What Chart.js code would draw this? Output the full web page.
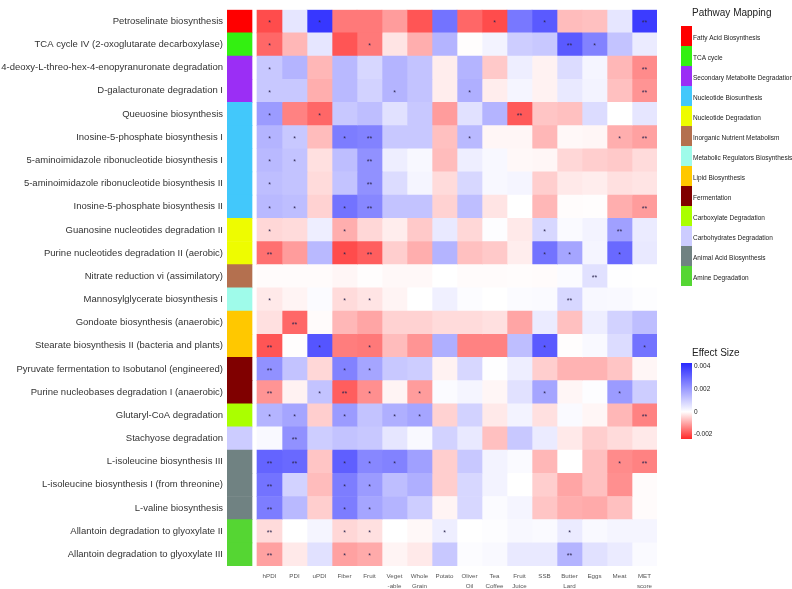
<!DOCTYPE html>
<html>
<head>
<meta charset="utf-8">
<script src="https://cdn.jsdelivr.net/npm/chart.js@4.4.0/dist/chart.umd.min.js"></script>
<style>
  html, body { margin: 0; padding: 0; background: #fff; }
</style>
</head>
<body>
<canvas id="heat" width="792" height="589"></canvas>
<script>
// pathways (rows) and diet scores (columns)
var rowLabels = [
  'Petroselinate biosynthesis',
  'TCA cycle IV (2-oxoglutarate decarboxylase)',
  '4-deoxy-L-threo-hex-4-enopyranuronate degradation',
  'D-galacturonate degradation I',
  'Queuosine biosynthesis',
  'Inosine-5-phosphate biosynthesis I',
  '5-aminoimidazole ribonucleotide biosynthesis I',
  '5-aminoimidazole ribonucleotide biosynthesis II',
  'Inosine-5-phosphate biosynthesis II',
  'Guanosine nucleotides degradation II',
  'Purine nucleotides degradation II (aerobic)',
  'Nitrate reduction vi (assimilatory)',
  'Mannosylglycerate biosynthesis I',
  'Gondoate biosynthesis (anaerobic)',
  'Stearate biosynthesis II (bacteria and plants)',
  'Pyruvate fermentation to Isobutanol (engineered)',
  'Purine nucleobases degradation I (anaerobic)',
  'Glutaryl-CoA degradation',
  'Stachyose degradation',
  'L-isoleucine biosynthesis III',
  'L-isoleucine biosynthesis I (from threonine)',
  'L-valine biosynthesis',
  'Allantoin degradation to glyoxylate II',
  'Allantoin degradation to glyoxylate III'
];

var colLabels = [['hPDI'], ['PDI'], ['uPDI'], ['Fiber'], ['Fruit'], ['Veget', '-able'],
  ['Whole', 'Grain'], ['Potato'], ['Oliver', 'Oil'], ['Tea', 'Coffee'], ['Fruit', 'Juice'],
  ['SSB'], ['Butter', 'Lard'], ['Eggs'], ['Meat'], ['MET', 'score']];

var pathwayNames = ['Fatty Acid Biosynthesis', 'TCA cycle', 'Secondary Metabolite Degradation',
  'Nucleotide Biosunthesis', 'Nucleotide Degradation', 'Inorganic Nutrient Metabolism',
  'Metabolic Regulators Biosynthesis', 'Lipid Biosynthesis', 'Fermentation',
  'Carboxylate Degradation', 'Carbohydrates Degradation', 'Animal Acid Biosynthesis',
  'Amine Degradation'];
var pathwayColors = ['#ff0000', '#33f011', '#9b2ef5', '#42c8fb', '#eefc00', '#b4704f',
  '#9ffbea', '#ffc800', '#800000', '#aaff00', '#ccccff', '#708282', '#55d633'];
// pathway group of each row (index into pathwayNames)
var rowPathway = [0, 1, 2, 2, 3, 3, 3, 3, 3, 4, 4, 5, 6, 7, 7, 8, 8, 9, 10, 11, 11, 11, 12, 12];

// effect size, in units of 0.001, one row per pathway, one value per column
var effect = [
  [-2.0, 0.5, 4.0, -1.5, -1.5, -1.1, -1.9, 2.8, -1.7, -2.0, 2.7, 3.3, -0.75, -0.7, 0.5, 3.9],
  [-1.7, -0.8, 0.5, -1.9, -1.5, -0.3, -0.9, 1.5, -0.02, 0.25, 1.0, 1.1, 3.3, 2.5, 1.2, 0.4],
  [1.1, 1.5, -0.8, 1.4, 0.8, 1.5, 1.2, -0.2, 1.5, -0.6, 0.35, -0.15, 0.7, 0.2, -0.8, -1.3],
  [1.1, 1.1, -0.9, 1.4, 0.9, 1.5, 1.2, -0.2, 1.6, -0.2, 0.2, -0.15, 0.45, 0.25, -0.7, -1.2],
  [2.0, -1.4, -1.7, 1.1, 1.3, 0.6, 1.1, -1.1, 0.6, 1.5, -1.85, -0.65, -0.7, 0.7, 0.0, 0.5],
  [1.5, 1.1, -0.75, 2.6, 2.5, 1.1, 1.1, -0.7, 1.4, -0.1, -0.1, -0.8, -0.08, -0.1, -0.9, -1.05],
  [1.4, 1.2, -0.35, 1.3, 2.2, 0.35, 0.15, -0.75, 0.35, 0.15, -0.08, -0.1, -0.45, -0.55, -0.6, -0.4],
  [1.3, 1.2, -0.4, 1.2, 2.2, 0.7, 0.2, -0.4, 0.8, 0.15, 0.2, -0.55, -0.25, -0.2, -0.35, -0.3],
  [1.4, 1.3, -0.5, 2.8, 2.4, 1.2, 1.2, -0.5, 1.3, -0.3, 0.0, -0.8, -0.03, -0.02, -0.9, -1.1],
  [-0.45, -0.4, 0.35, -0.9, -0.45, -0.2, -0.6, 0.45, -0.45, 0.05, -0.25, 0.8, 0.1, 0.25, 1.9, 0.4],
  [-1.6, -1.1, 1.4, -2.0, -1.8, -0.55, -0.9, 1.5, -0.7, -0.6, -0.2, 2.8, 1.8, 0.2, 3.0, 0.45],
  [-0.05, -0.05, -0.04, -0.1, -0.02, -0.08, -0.08, 0.0, -0.05, -0.05, -0.03, -0.04, 0.08, 0.6, 0.03, 0.0],
  [-0.25, -0.12, 0.08, -0.4, -0.3, -0.12, 0.0, 0.3, 0.06, 0.0, 0.08, 0.1, 0.8, 0.15, 0.12, 0.05],
  [-0.35, -1.7, -0.05, -0.8, -1.0, -0.5, -0.5, -0.4, -0.4, -0.35, -1.0, 0.4, -0.7, 0.35, 0.9, 1.3],
  [-1.9, -0.02, 3.4, -1.45, -1.5, -0.75, -1.2, 1.6, -1.4, -1.4, 1.3, 3.3, -0.02, 0.12, 0.7, 2.8],
  [2.2, 1.2, -0.45, 2.5, 1.8, 1.1, 1.0, -0.15, 0.8, 0.02, 0.35, -0.55, -0.85, -0.85, -0.65, -0.1],
  [-1.2, -0.15, 1.2, -1.8, -1.25, -0.12, -1.1, 0.08, 0.2, -0.1, 0.6, 1.8, -0.1, 0.05, 2.0, 1.0],
  [1.5, 1.8, -0.55, 2.0, 1.2, 1.6, 1.8, -0.5, 0.9, -0.25, 0.25, -0.35, 0.1, -0.1, -0.8, -1.4],
  [0.12, 2.2, 1.0, 1.2, 1.1, 0.5, 0.12, 0.9, 0.45, -0.7, 1.1, 0.4, -0.25, -0.55, -0.4, -0.25],
  [3.1, 3.0, -0.65, 3.2, 2.4, 2.5, 1.9, -0.55, 1.1, 0.25, 0.1, -0.8, 0.0, -0.7, -1.3, -1.4],
  [2.8, 0.9, -0.75, 2.6, 2.0, 1.3, 1.6, -0.55, 0.8, 0.25, 0.0, -0.55, -1.0, -0.7, -1.25, -0.05],
  [2.6, 1.4, -0.55, 2.6, 1.8, 1.5, 1.0, -0.12, 0.8, 0.08, 0.2, -0.65, -0.9, -0.95, -0.7, -0.05],
  [-0.4, 0.0, 0.2, -0.45, -0.35, 0.0, -0.08, 0.35, 0.0, 0.05, 0.15, 0.1, 0.4, 0.12, 0.2, 0.2],
  [-1.05, -0.25, 0.6, -1.05, -0.95, -0.12, -0.25, 1.1, 0.06, 0.12, 0.45, 0.45, 1.5, 0.6, 0.4, 0.1]
];

// significance stars per cell (number of '*'), one string per row
var stars = [
  '1010000001010002', '1000100000002100', '1000000000000002', '1000010010000002',
  '1010000000200000', '1101200010000012', '1100200000000000', '1000200000000000',
  '1101200000000002', '1001000000010020', '2001200000011010', '0000000000000200',
  '1001100000002000', '0200000000000000', '2010100000010001', '2001100000000000',
  '2012101000010010', '1101011000000002', '0200000000000000', '2201110000000012',
  '2001100000000000', '2001100000000000', '2001100100001000', '2001100000002000'
];

// colour scale limits (units of 0.001) and legend ticks
var scaleMax = 4.3;
var scaleMin = -2.4;
var legendTicks = [4, 2, 0, -2];
var legendTickText = ['0.004', '0.002', '0', '-0.002'];

var blueEnd = [40, 40, 255];
var redEnd = [255, 40, 40];

function colorFor(v) {
  var end = v >= 0 ? blueEnd : redEnd;
  var t = v >= 0 ? v / scaleMax : v / scaleMin;
  t = Math.max(0, Math.min(1, t));
  var r = Math.round(255 + (end[0] - 255) * t);
  var g = Math.round(255 + (end[1] - 255) * t);
  var b = Math.round(255 + (end[2] - 255) * t);
  return 'rgb(' + r + ',' + g + ',' + b + ')';
}

// the pathway strip sits left of the first column with a small gap
var stripStart = -1.2;
var stripEnd = -0.2;

var datasets = [];
datasets.push({
  data: rowLabels.map(function () { return [stripStart, stripEnd]; }),
  backgroundColor: rowPathway.map(function (p) { return pathwayColors[p]; })
});
for (var j = 0; j < colLabels.length; j++) {
  datasets.push({
    data: rowLabels.map(function () { return [j, j + 1]; }),
    backgroundColor: effect.map(function (row) { return colorFor(row[j]); })
  });
}
datasets.forEach(function (d) {
  d.grouped = false;
  d.barPercentage = 1;
  d.categoryPercentage = 1;
  d.borderWidth = 0;
});

var FONT = '"Liberation Sans", Arial, sans-serif';

//stars on top of the cells
var starPlugin = {
  id: 'stars',
  afterDatasetsDraw: function (chart) {
    var ctx = chart.ctx;
    var xs = chart.scales.x, ys = chart.scales.y;
    ctx.save();
    ctx.fillStyle = '#2e2850';
    ctx.font = '7px ' + FONT;
    ctx.textAlign = 'center';
    ctx.textBaseline = 'middle';
    for (var i = 0; i < stars.length; i++) {
      for (var c = 0; c < stars[i].length; c++) {
        var n = parseInt(stars[i][c], 10);
        if (n > 0) {
          ctx.fillText('*'.repeat(n), xs.getPixelForValue(c + 0.5), ys.getPixelForValue(i) + 2);
        }
      }
    }
    ctx.restore();
  }
};

//legends on the right: pathway mapping and effect size
var legendPlugin = {
  id: 'sideLegends',
  afterDraw: function (chart) {
    var ctx = chart.ctx;
    ctx.save();
    ctx.textAlign = 'left';
    ctx.textBaseline = 'middle';
    ctx.fillStyle = '#222';
    ctx.font = '10px ' + FONT;
    ctx.fillText('Pathway Mapping', 692, 13);
    for (var k = 0; k < pathwayNames.length; k++) {
      ctx.fillStyle = pathwayColors[k];
      ctx.fillRect(681, 26 + 20 * k, 11, 20);
      ctx.fillStyle = '#222';
      ctx.font = '6.5px ' + FONT;
      ctx.fillText(pathwayNames[k], 693, 38 + 20 * k);
    }

    ctx.font = '10px ' + FONT;
    ctx.fillText('Effect Size', 692, 353);
    var top = 363, h = 76;
    var grad = ctx.createLinearGradient(0, top, 0, top + h);
    grad.addColorStop(0, colorFor(scaleMax));
    grad.addColorStop(scaleMax / (scaleMax - scaleMin), '#ffffff');
    grad.addColorStop(1, colorFor(scaleMin));
    ctx.fillStyle = grad;
    ctx.fillRect(681, top, 11, h);
    ctx.fillStyle = '#222';
    ctx.font = '6.5px ' + FONT;
    for (var t = 0; t < legendTicks.length; t++) {
      var y = top + (scaleMax - legendTicks[t]) / (scaleMax - scaleMin) * h;
      ctx.fillText(legendTickText[t], 694, y);
    }
    ctx.restore();
  }
};

var config = {
  type: 'bar',
  data: { labels: rowLabels, datasets: datasets },
  options: {
    indexAxis: 'y',
    responsive: false,
    animation: false,
    devicePixelRatio: 1,
    layout: { padding: { top: 3, right: 135, bottom: 0, left: 0 } },
    plugins: { legend: { display: false }, tooltip: { enabled: false } },
    scales: {
      y: {
        type: 'category',
        offset: true,
        grid: { display: false, drawTicks: false },
        border: { display: false },
        ticks: { autoSkip: false, padding: 4, color: '#333', font: { family: FONT, size: 9.5 } },
        afterFit: function (s) { s.width = 227; }
      },
      x: {
        type: 'linear',
        min: stripStart,
        max: colLabels.length,
        grid: { display: false, drawTicks: false },
        border: { display: false },
        afterBuildTicks: function (s) {
          s.ticks = colLabels.map(function (l, i) { return { value: i + 0.5 }; });
        },
        ticks: {
          autoSkip: false,
          maxRotation: 0,
          padding: 5,
          color: '#555',
          font: { family: FONT, size: 6.2, lineHeight: 1.6 },
          callback: function (v, i) { return colLabels[i]; }
        },
        afterFit: function (s) { s.height = 23; }
      }
    }
  },
  plugins: [starPlugin, legendPlugin]
};

var myChart = new Chart(document.getElementById('heat'), config);
</script>
</body>
</html>
